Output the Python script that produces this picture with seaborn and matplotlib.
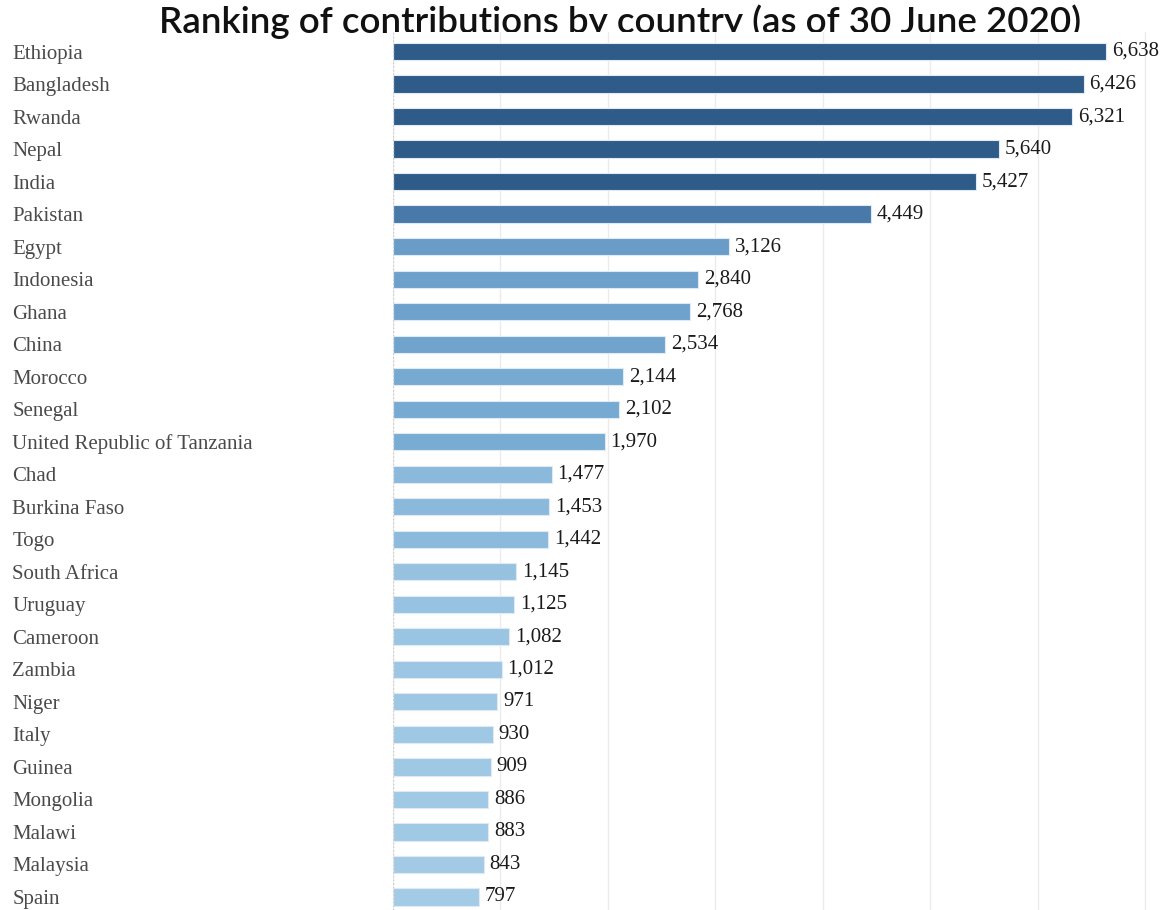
import numpy as np
import pandas as pd
import matplotlib.pyplot as plt
import matplotlib.colors as mcolors
from matplotlib.ticker import MultipleLocator
import seaborn as sns

countries = ['Ethiopia', 'Bangladesh', 'Rwanda', 'Nepal', 'India', 'Pakistan',
             'Egypt', 'Indonesia', 'Ghana', 'China', 'Morocco', 'Senegal',
             'United Republic of Tanzania', 'Chad', 'Burkina Faso', 'Togo',
             'South Africa', 'Uruguay', 'Cameroon', 'Zambia', 'Niger', 'Italy',
             'Guinea', 'Mongolia', 'Malawi', 'Malaysia', 'Spain']
troops = [6638, 6426, 6321, 5640, 5427, 4449, 3126, 2840, 2768, 2534, 2144,
          2102, 1970, 1477, 1453, 1442, 1145, 1125, 1082, 1012, 971, 930, 909,
          886, 883, 843, 797]

TITLE = 'Ranking of contributions by country (as of 30 June 2020)'

df = pd.DataFrame({'country': countries, 'troops': troops})

sns.set_style('white')

# sequential blue, saturating at the top group
cmap = mcolors.LinearSegmentedColormap.from_list(
    'blues', ['#a3cbe6', '#78acd3', '#6a9dc8', '#4f80b1', '#2e5b88'])
norm = mcolors.Normalize(vmin=800, vmax=5400, clip=True)
palette = [cmap(norm(v)) for v in df['troops']]

fig = plt.figure(figsize=(11.7, 9.1), dpi=100)
ax = fig.add_axes([393 / 1170, 0.0, 1 - 393 / 1170, (910 - 32) / 910])
ax.set_facecolor('white')

sns.barplot(data=df, x='troops', y='country', hue='country', palette=palette,
            legend=False, orient='h', width=0.53, saturation=1,
            edgecolor='#dfeaf4', linewidth=0.8, ax=ax, zorder=3)

ax.set_xlim(0, 7230)
ax.set_ylim(len(df) - 0.6, -0.6)
ax.xaxis.set_major_locator(MultipleLocator(1000))
ax.grid(axis='x', color='#ebebeb', linewidth=1, zorder=0)
ax.axvline(0, color='#cccccc', linestyle=':', linewidth=1, zorder=4)
for s in ax.spines.values():
    s.set_visible(False)
ax.set_xlabel('')
ax.set_ylabel('')
ax.set_xticklabels([])
ax.tick_params(axis='x', length=0)
ax.tick_params(axis='y', length=0, pad=274)
for lbl in ax.get_yticklabels():
    lbl.set_ha('left')
    lbl.set_fontfamily('Liberation Serif')
    lbl.set_fontsize(15)
    lbl.set_color('#4a4a4a')

for i, v in enumerate(df['troops']):
    ax.text(v + 55, i, f'{v:,}', va='center', ha='left',
            fontsize=15, family='Liberation Serif', color='#1a1a1a')

# title sits partly behind the plot area, as in the source
fig.text(620 / 1170, 1 - 33 / 910, TITLE, ha='center', va='baseline',
         fontsize=26.5, family=['Lato', 'DejaVu Sans'], fontweight='semibold',
         color='#111111', zorder=-1)

fig.savefig('out.png', dpi=100)
